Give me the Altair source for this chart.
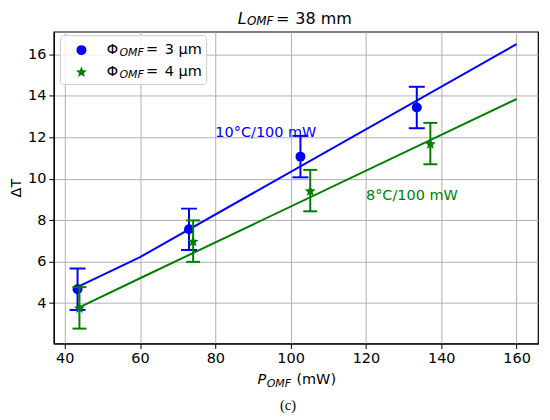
import math
import altair as alt
import pandas as pd

# ---- data ----
power_3um = [43.4, 73.0, 102.6, 133.5]
dT_3um = [4.67, 7.56, 11.07, 13.44]
err_3um = [1.0, 1.0, 1.0, 1.0]

power_4um = [43.9, 74.1, 105.2, 137.1]
dT_4um = [3.77, 6.99, 9.43, 11.70]
err_4um = [1.0, 1.0, 1.0, 1.0]

fit_x = [44, 60, 160]
fit_3um = [4.83, 6.22, 16.5]
fit_4um = [3.81, 5.20, 13.85]

x_ticks = [40, 60, 80, 100, 120, 140, 160]
y_ticks = [4, 6, 8, 10, 12, 14, 16]

annot_text = ["10°C/100 mW", "8°C/100 mW"]
annot_x = [80, 120]
annot_y = [12.0, 9.0]

BLUE = "#0000ff"
GREEN = "#008000"
FONT = "DejaVu Sans"

# five-point star marker path in the unit box [-1, 1]
_pts = []
for k in range(10):
    r = 1.0 if k % 2 == 0 else 0.45
    a = math.radians(-90 + 36 * k)
    _pts.append(f"{r * math.cos(a):.3f},{r * math.sin(a) + 0.1:.3f}")
STAR = "M" + "L".join(_pts) + "Z"

W, H = 486, 313

xs = alt.Scale(domain=[37.1, 165.7], nice=False, zero=False)
ys = alt.Scale(domain=[2.05, 17.1], nice=False, zero=False)

X = lambda f: alt.X(f, type="quantitative", scale=xs,
                    axis=alt.Axis(values=x_ticks, title=None))
Y = lambda f: alt.Y(f, type="quantitative", scale=ys,
                    axis=alt.Axis(values=y_ticks, title="ΔT", titlePadding=3.5))

layers = []

series = [
    (power_3um, dT_3um, err_3um, fit_3um, BLUE, "circle", 100, 16),
    (power_4um, dT_4um, err_4um, fit_4um, GREEN, STAR, 130, 14),
]

for px, py, pe, fy, col, shape, msize, capw in series:
    fit_df = pd.DataFrame({"x": fit_x, "y": fy})
    layers.append(alt.Chart(fit_df).mark_line(color=col, strokeWidth=2).encode(
        x=X("x"), y=Y("y")))

for px, py, pe, fy, col, shape, msize, capw in series:
    df = pd.DataFrame({"x": px, "y": py, "e": pe})
    df["lo"] = df["y"] - df["e"]
    df["hi"] = df["y"] + df["e"]
    base = alt.Chart(df)
    layers.append(base.mark_rule(color=col, strokeWidth=2).encode(
        x=X("x"), y=Y("lo"), y2="hi"))
    layers.append(base.mark_tick(color=col, orient="horizontal", thickness=2,
                                 size=capw, opacity=1).encode(x=X("x"), y=Y("lo")))
    layers.append(base.mark_tick(color=col, orient="horizontal", thickness=2,
                                 size=capw, opacity=1).encode(x=X("x"), y=Y("hi")))
    layers.append(base.mark_point(shape=shape, filled=True, size=msize, color=col,
                                  opacity=1).encode(x=X("x"), y=Y("y")))

# slope annotations (data coordinates)
for t, ax_, ay_, col in zip(annot_text, annot_x, annot_y, [BLUE, GREEN]):
    adf = pd.DataFrame({"x": [ax_], "y": [ay_], "t": [t]})
    layers.append(alt.Chart(adf).mark_text(align="left", baseline="alphabetic",
                                           font=FONT, fontSize=14.5, color=col).encode(
        x=X("x"), y=Y("y"), text="t:N"))


def label(text, x, y, size=14.5, italic=False, align="left",
          baseline="alphabetic", color="black", font=FONT):
    kw = dict(align=align, baseline=baseline, font=font, fontSize=size, color=color)
    if italic:
        kw["fontStyle"] = "italic"
    return alt.Chart(pd.DataFrame({"t": [text]})).mark_text(**kw).encode(
        x=alt.value(x), y=alt.value(y), text="t:N")


# legend box
layers.append(alt.Chart(pd.DataFrame({"a": [0]})).mark_rect(
    fill="white", fillOpacity=0.8, stroke="#cccccc", strokeWidth=1, cornerRadius=3
).encode(x=alt.value(6.7), x2=alt.value(153.4), y=alt.value(4), y2=alt.value(53)))
layers.append(alt.Chart(pd.DataFrame({"a": [0]})).mark_point(
    shape="circle", filled=True, size=100, color=BLUE, opacity=1
).encode(x=alt.value(27.7), y=alt.value(18.5)))
layers.append(alt.Chart(pd.DataFrame({"a": [0]})).mark_point(
    shape=STAR, filled=True, size=130, color=GREEN, opacity=1
).encode(x=alt.value(27.7), y=alt.value(40.2)))
for row_y, val in [(22.2, "3 µm"), (44.2, "4 µm")]:
    layers.append(label("Φ", 53.2, row_y))
    layers.append(label("OMF", 65.8, row_y + 2.5, size=11, italic=True))
    layers.append(label("=", 92.4, row_y))
    layers.append(label(val, 111.4, row_y))

# title  L_OMF = 38 mm
layers.append(label("L", 184.5, -7.5, size=16, italic=True))
layers.append(label("OMF", 193.8, -6.3, size=12, italic=True))
layers.append(label("=", 223.0, -7.5, size=16))
layers.append(label("38 mm", 242.4, -7.5, size=16))

# x axis label  P_OMF (mW)
layers.append(label("P", 204.5, 354.0, italic=True))
layers.append(label("OMF", 213.6, 356.3, size=11, italic=True))
layers.append(label("(mW)", 243.5, 354.0))

# caption
layers.append(label("(c)", 235.0, 380.0, size=14.5, align="center",
                    font="Liberation Serif"))

chart = alt.layer(*layers).properties(
    width=W, height=H,
    autosize=alt.AutoSizeParams(type="none"),
    padding={"left": 46, "top": 23, "right": 4, "bottom": 72},
).configure_view(
    stroke="black", strokeWidth=1.2
).configure_axis(
    labelFont=FONT, labelFontSize=14.5, labelColor="black",
    titleFont=FONT, titleFontSize=14.5, titleFontWeight="normal", titleColor="black",
    domainColor="black", domainWidth=1.2, tickColor="black", tickSize=5, tickWidth=1,
    gridColor="#b0b0b0", gridWidth=1, labelPadding=3,
)

chart.save("out.html", embed_options={"renderer": "svg", "actions": False})
